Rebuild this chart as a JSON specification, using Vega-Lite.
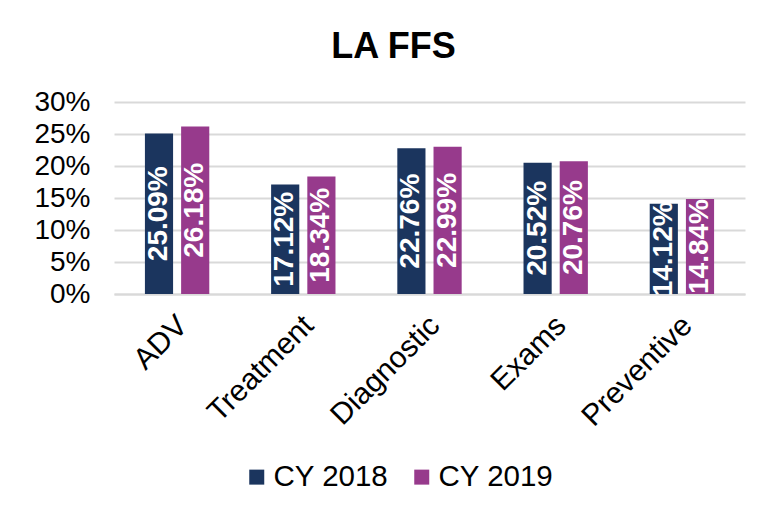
{
  "$schema": "https://vega.github.io/schema/vega-lite/v6.json",
  "width": 631,
  "height": 192,
  "autosize": {"type": "none"},
  "padding": {"left": 114, "top": 102, "right": 33, "bottom": 220},
  "background": "white",
  "title": {"text": "LA FFS", "fontSize": 36, "font": "Liberation Sans", "fontWeight": "bold", "color": "black", "anchor": "middle", "offset": 22, "dx": -36},
  "data": {"values": [
    {"cat": "ADV", "year": "CY 2018", "value": 0.2509},
    {"cat": "ADV", "year": "CY 2019", "value": 0.2618},
    {"cat": "Treatment", "year": "CY 2018", "value": 0.1712},
    {"cat": "Treatment", "year": "CY 2019", "value": 0.1834},
    {"cat": "Diagnostic", "year": "CY 2018", "value": 0.2276},
    {"cat": "Diagnostic", "year": "CY 2019", "value": 0.2299},
    {"cat": "Exams", "year": "CY 2018", "value": 0.2052},
    {"cat": "Exams", "year": "CY 2019", "value": 0.2076},
    {"cat": "Preventive", "year": "CY 2018", "value": 0.1412},
    {"cat": "Preventive", "year": "CY 2019", "value": 0.1484}
  ]},
  "encoding": {
    "x": {"field": "cat", "type": "nominal", "sort": null,
      "scale": {"paddingInner": 0.49, "paddingOuter": 0.245},
      "axis": {"title": null, "labelAngle": -45, "labelBaseline": "top", "labelFontSize": 30, "labelFont": "Liberation Sans", "labelColor": "black", "ticks": false, "domainColor": "#d9d9d9", "domainWidth": 2, "labelPadding": 16, "labelOffset": -5}},
    "xOffset": {"field": "year", "type": "nominal", "scale": {"paddingInner": 0.222, "paddingOuter": 0}}
  },
  "layer": [
    {
      "mark": {"type": "bar"},
      "encoding": {
        "y": {"field": "value", "type": "quantitative", "scale": {"domain": [0, 0.3]},
          "axis": {"title": null, "format": ".0%", "values": [0, 0.05, 0.1, 0.15, 0.2, 0.25, 0.3], "labelOverlap": false, "labelFontSize": 28, "labelFont": "Liberation Sans", "labelColor": "black", "ticks": false, "domain": false, "gridColor": "#d9d9d9", "gridWidth": 2, "labelPadding": 24}},
        "color": {"field": "year", "type": "nominal", "scale": {"range": ["#1b355e", "#973a8c"]},
          "legend": {"title": null, "orient": "none", "legendX": 128, "legendY": 360, "direction": "horizontal", "symbolType": "square", "symbolSize": 225, "symbolOpacity": 1, "labelFontSize": 29.5, "labelFont": "Liberation Sans", "labelColor": "black", "columnPadding": 18, "labelOffset": 2}}
      }
    },
    {
      "mark": {"type": "text", "angle": 270, "color": "white", "fontSize": 28, "fontWeight": "bold", "font": "Liberation Sans", "align": "center", "baseline": "middle"},
      "encoding": {
        "y": {"field": "value", "type": "quantitative", "scale": {"domain": [0, 0.6]}, "axis": null},
        "text": {"field": "value", "type": "quantitative", "format": ".2%"}
      }
    }
  ],
  "resolve": {"scale": {"y": "independent"}},
  "config": {"view": {"stroke": null}}
}
